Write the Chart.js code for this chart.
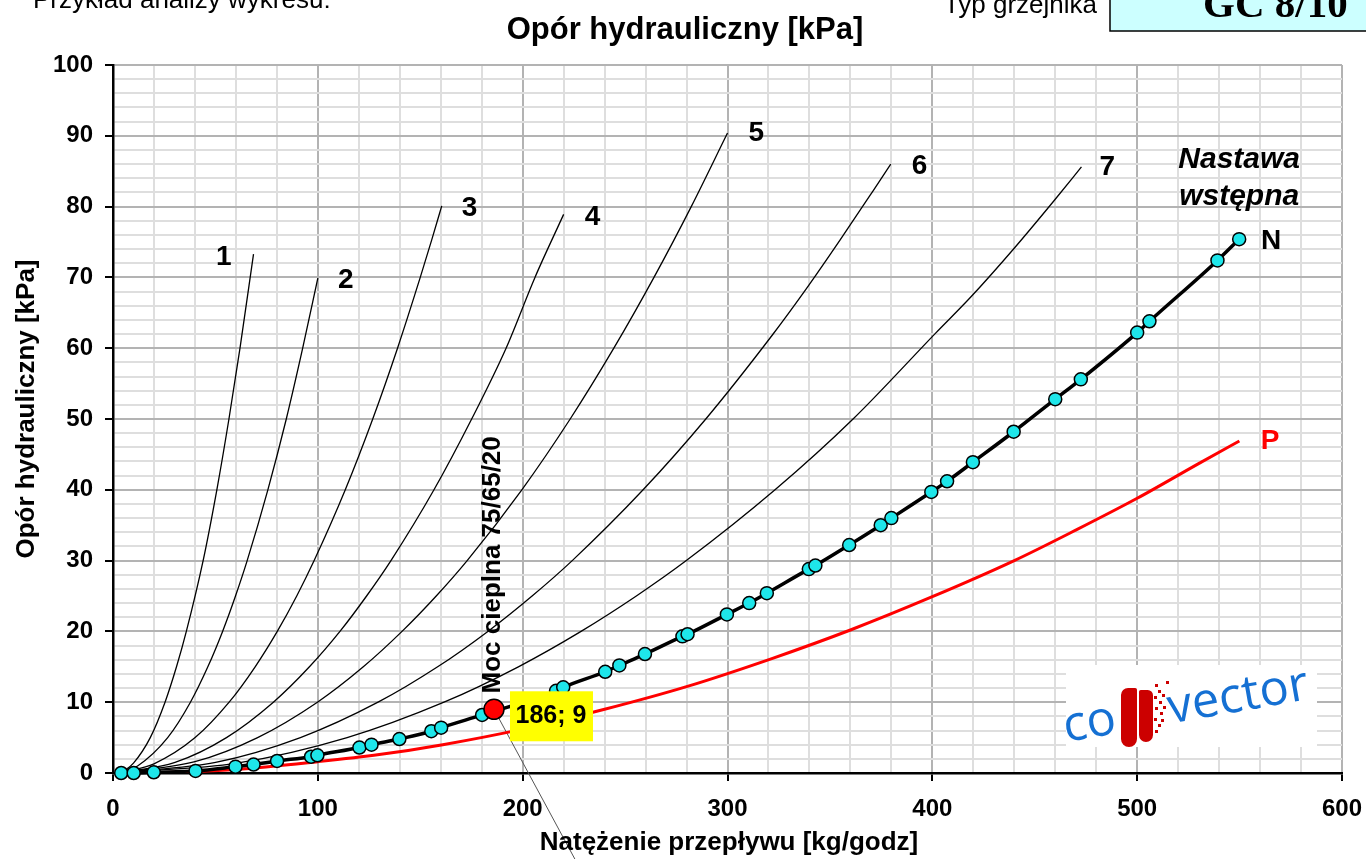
<!DOCTYPE html>
<html lang="pl">
<head>
<meta charset="utf-8">
<title>Opór hydrauliczny</title>
<script src="https://cdn.jsdelivr.net/npm/chart.js@4.4.1/dist/chart.umd.min.js"></script>
<style>
  html, body { margin: 0; padding: 0; background: #fff; }
  #wrap { position: relative; width: 1366px; height: 859px; overflow: hidden; }
</style>
</head>
<body>
<div id="wrap"><canvas id="wykres"></canvas></div>
<script>
// nastawy 1-7: natezenie przeplywu [kg/godz] i opor [kPa]
const krzywa1_x = [5, 10, 18.2, 25.4, 31, 35.8, 44, 50.7, 56.6, 62, 68.6];
const krzywa1_y = [0.2, 1.4, 5, 10, 15, 20, 30, 40, 50, 60, 73.3];
const krzywa2_x = [5, 12, 26.7, 37.8, 46.3, 53.5, 59.8, 65.5, 75.6, 84.6, 92.6, 100];
const krzywa2_y = [0.2, 1, 5, 10, 15, 20, 25, 30, 40, 50, 60, 69.9];
const krzywa3_x = [5, 20, 40.1, 56.7, 69.4, 80.2, 89.7, 98.2, 113.4, 126.8, 138.9, 150, 155.6, 160.5];
const krzywa3_y = [0.1, 1.3, 5, 10, 15, 20, 25, 30, 40, 50, 60, 70, 75.3, 80.1];
const krzywa4_x = [5, 30.3, 55.4, 78.3, 95.9, 110.8, 123.8, 135.7, 156.7, 175.1, 191.9, 206, 220];
const krzywa4_y = [0.1, 1.5, 5, 10, 15, 20, 25, 30, 40, 50, 60, 70, 78.9];
const krzywa5_x = [5, 40, 70.6, 99.8, 122.2, 141.1, 157.8, 172.9, 199.6, 223.2, 244.5, 264.1, 282.3, 300];
const krzywa5_y = [0.1, 1.6, 5, 10, 15, 20, 25, 30, 40, 50, 60, 70, 80, 90.4];
const krzywa6_x = [5, 50.1, 91.5, 129.4, 158.5, 183, 204.6, 224.2, 258.8, 289.4, 322, 338, 355, 371, 379.7];
const krzywa6_y = [0.1, 1.5, 5, 10, 15, 20, 25, 30, 40, 50, 61.9, 68.2, 75.3, 82.2, 86];
const krzywa7_x = [5, 60.5, 114.3, 161.6, 197.9, 228.5, 255.5, 279.9, 323.2, 361.3, 401.5, 419, 440.5, 459.6, 472.8];
const krzywa7_y = [0.1, 1.4, 5, 10, 15, 20, 25, 30, 40, 50, 62.1, 67.3, 74.3, 80.9, 85.6];

// nastawa wstepna N (punkty pomiarowe)
const nastawaN_x = [4, 10.1, 19.9, 40.3, 59.8, 68.6, 80.1, 96.7, 99.8, 120.3, 126.2, 139.8, 155.4, 160.2,
  180.2, 216.3, 219.8, 240.3, 247.2, 259.7, 278, 280.5, 299.7, 310.6, 319.2, 339.7, 342.9, 359.4,
  374.8, 380, 399.5, 407.2, 419.8, 439.7, 460, 472.5, 500, 506, 539.2, 549.8];
const nastawaN_y = [0, 0, 0.1, 0.3, 0.9, 1.2, 1.7, 2.3, 2.5, 3.6, 4.0, 4.8, 5.9, 6.4,
  8.2, 11.6, 12.1, 14.3, 15.2, 16.8, 19.3, 19.6, 22.4, 24.0, 25.4, 28.8, 29.3, 32.2,
  35, 36, 39.7, 41.2, 43.9, 48.2, 52.8, 55.6, 62.2, 63.8, 72.4, 75.4];

// zawor w pelni otwarty P
const krzywaP_x = [20, 60, 100, 130, 161, 200, 240, 280, 322, 360, 400, 440, 470, 500, 530, 549.9];
const krzywaP_y = [0, 0.5, 1.6, 2.6, 4, 6.2, 9, 12.2, 16.2, 20.2, 24.9, 30, 34.3, 38.8, 43.7, 46.9];

// punkt pracy
const punktX = 186;
const punktY = 9;

const osX_etykiety = [0, 100, 200, 300, 400, 500, 600];
const osY_etykiety = [0, 10, 20, 30, 40, 50, 60, 70, 80, 90, 100];

// opisy krzywych (miejsce w jednostkach osi)
const etykietyKrzywych = [
  { t: '1', x: 54.1, y: 72.9 },
  { t: '2', x: 113.7, y: 69.6 },
  { t: '3', x: 174.1, y: 79.8 },
  { t: '4', x: 234.1, y: 78.5 },
  { t: '5', x: 314.1, y: 90.3 },
  { t: '6', x: 393.7, y: 85.7 },
  { t: '7', x: 485.4, y: 85.5 },
  { t: 'N', x: 565.4, y: 75.1 }
];

const FONT = '"Liberation Sans", Arial, sans-serif';
Chart.defaults.font.family = FONT;

const pary = (xs, ys) => xs.map((x, i) => ({ x: x, y: ys[i] }));

const datasets = [
  {
    label: 'punkt',
    data: [{ x: punktX, y: punktY }],
    showLine: false,
    pointRadius: 10,
    pointBackgroundColor: '#ff0000',
    pointBorderColor: '#000',
    pointBorderWidth: 1.5,
    clip: false,
    order: 0
  },
  {
    label: 'N',
    data: pary(nastawaN_x, nastawaN_y),
    showLine: true,
    borderColor: '#000',
    borderWidth: 3.5,
    cubicInterpolationMode: 'monotone',
    pointRadius: 6.5,
    pointBackgroundColor: '#1ee6ea',
    pointBorderColor: '#000',
    pointBorderWidth: 1.5,
    clip: false,
    order: 1
  },
  {
    label: 'P',
    data: pary(krzywaP_x, krzywaP_y),
    showLine: true,
    borderColor: '#ff0000',
    borderWidth: 3,
    cubicInterpolationMode: 'monotone',
    pointRadius: 0,
    order: 2
  }
];

[[krzywa1_x, krzywa1_y], [krzywa2_x, krzywa2_y], [krzywa3_x, krzywa3_y], [krzywa4_x, krzywa4_y],
 [krzywa5_x, krzywa5_y], [krzywa6_x, krzywa6_y], [krzywa7_x, krzywa7_y]].forEach((k, i) => {
  datasets.push({
    label: String(i + 1),
    data: pary(k[0], k[1]),
    showLine: true,
    borderColor: '#000',
    borderWidth: 1.3,
    cubicInterpolationMode: 'monotone',
    pointRadius: 0,
    order: 3
  });
});

function tekst(ctx, s, x, y, font, kolor, align, baseline) {
  ctx.save();
  ctx.font = font;
  ctx.fillStyle = kolor;
  ctx.textAlign = align || 'center';
  ctx.textBaseline = baseline || 'middle';
  ctx.fillText(s, x, y);
  ctx.restore();
}

const opisyPlugin = {
  id: 'opisy',
  beforeDatasetsDraw(chart) {
    const ctx = chart.ctx;
    const { x, y } = chart.scales;

    // logo convector
    ctx.save();
    ctx.fillStyle = '#fff';
    ctx.fillRect(1066, 665, 251, 82);
    ctx.fillStyle = '#cc0000';
    ctx.beginPath();
    ctx.roundRect(1121, 688, 16, 59, [8, 2, 9, 9]);
    ctx.roundRect(1139, 690, 14, 52, [2, 6, 8, 8]);
    ctx.fill();
    [[1155, 684], [1158, 690], [1154, 696], [1159, 701], [1155, 707], [1160, 712], [1154, 718],
     [1158, 724], [1155, 730], [1162, 694], [1163, 706], [1161, 719], [1166, 681]].forEach(d => {
      ctx.fillRect(d[0], d[1], 3, 3);
    });
    ctx.translate(1066, 742);
    ctx.rotate(-0.175);
    ctx.fillStyle = '#1570d3';
    ctx.font = '49px "Open Sans", sans-serif';
    ctx.textBaseline = 'alphabetic';
    ctx.fillText('co', 0, 0);
    ctx.fillText('vector', 106, 0);
    ctx.restore();

    // linia od punktu pracy
    const px = x.getPixelForValue(punktX);
    const py = y.getPixelForValue(punktY);
    ctx.save();
    ctx.strokeStyle = '#555';
    ctx.lineWidth = 1;
    ctx.beginPath();
    ctx.moveTo(px, py);
    ctx.lineTo(px + 81, py + 150);
    ctx.stroke();
    ctx.restore();
  },
  afterDraw(chart) {
    const ctx = chart.ctx;
    const { x, y } = chart.scales;
    const bold = s => 'bold ' + s + 'px ' + FONT;

    // naglowek strony
    tekst(ctx, 'Przykład analizy wykresu:', 33, 8, '26px ' + FONT, '#000', 'left', 'alphabetic');
    tekst(ctx, 'Typ grzejnika', 1097, 13, '26px ' + FONT, '#000', 'right', 'alphabetic');
    ctx.save();
    ctx.fillStyle = '#ccffff';
    ctx.strokeStyle = '#000';
    ctx.lineWidth = 1.5;
    ctx.fillRect(1110, -10, 270, 41);
    ctx.strokeRect(1110, -10, 270, 41);
    ctx.restore();
    tekst(ctx, 'GC 8/10', 1203, 17, 'bold 41px "Liberation Serif", "Times New Roman", serif', '#000', 'left', 'alphabetic');

    // tytuly
    tekst(ctx, 'Opór hydrauliczny [kPa]', 685, 30, bold(31), '#000');
    tekst(ctx, 'Natężenie przepływu [kg/godz]', 729, 843, bold(26), '#000');
    ctx.save();
    ctx.translate(27, 409);
    ctx.rotate(-Math.PI / 2);
    tekst(ctx, 'Opór hydrauliczny [kPa]', 0, 0, bold(26), '#000');
    ctx.restore();

    // numery nastaw
    etykietyKrzywych.forEach(e => {
      tekst(ctx, e.t, x.getPixelForValue(e.x), y.getPixelForValue(e.y), bold(28), '#000');
    });
    tekst(ctx, 'P', x.getPixelForValue(564.9), y.getPixelForValue(46.8), bold(28), '#ff0000');
    tekst(ctx, 'Nastawa', x.getPixelForValue(549.8), y.getPixelForValue(86.6), 'italic ' + bold(30), '#000');
    tekst(ctx, 'wstępna', x.getPixelForValue(549.8), y.getPixelForValue(81.4), 'italic ' + bold(30), '#000');

    // moc cieplna
    ctx.save();
    ctx.translate(x.getPixelForValue(185.4), y.getPixelForValue(29.4));
    ctx.rotate(-Math.PI / 2);
    tekst(ctx, 'Moc cieplna 75/65/20', 0, 0, bold(26), '#000');
    ctx.restore();

    // opis punktu pracy
    const px = x.getPixelForValue(punktX);
    const py = y.getPixelForValue(punktY);
    ctx.save();
    ctx.fillStyle = '#ffff00';
    ctx.fillRect(px + 16, py - 18, 83, 50);
    ctx.restore();
    tekst(ctx, punktX + '; ' + punktY, px + 57, py + 7, bold(25), '#000');
  }
};

const siatka = (krok) => ({
  color: c => (c.tick && c.tick.value % krok === 0) ? '#b3b3b3' : '#dedede',
  lineWidth: 2,
  tickLength: 8,
  tickWidth: 2,
  tickColor: c => (c.tick && c.tick.value % krok === 0) ? '#000' : 'rgba(0,0,0,0)'
});

new Chart(document.getElementById('wykres'), {
  type: 'scatter',
  data: { datasets: datasets },
  options: {
    responsive: true,
    maintainAspectRatio: false,
    animation: false,
    events: [],
    layout: { padding: { top: 65, right: 24, left: 0, bottom: 0 } },
    plugins: {
      legend: { display: false },
      tooltip: { enabled: false },
      title: { display: false }
    },
    scales: {
      x: {
        type: 'linear',
        min: 0,
        max: 600,
        afterFit: s => { s.height = 86; s.paddingLeft = 0; s.paddingRight = 0; },
        ticks: {
          stepSize: 20,
          autoSkip: false,
          maxRotation: 0,
          padding: 14,
          color: '#000',
          font: { size: 24, weight: 'bold' },
          callback: v => osX_etykiety.includes(v) ? v : ''
        },
        grid: siatka(100),
        border: { color: '#000', width: 2.5 }
      },
      y: {
        type: 'linear',
        min: 0,
        max: 100,
        afterFit: s => { s.width = 113; },
        ticks: {
          stepSize: 2,
          autoSkip: false,
          padding: 12,
          color: '#000',
          font: { size: 24, weight: 'bold' },
          callback: v => osY_etykiety.includes(v) ? v : ''
        },
        grid: siatka(10),
        border: { color: '#000', width: 2.5 }
      }
    }
  },
  plugins: [opisyPlugin]
});
</script>
</body>
</html>
